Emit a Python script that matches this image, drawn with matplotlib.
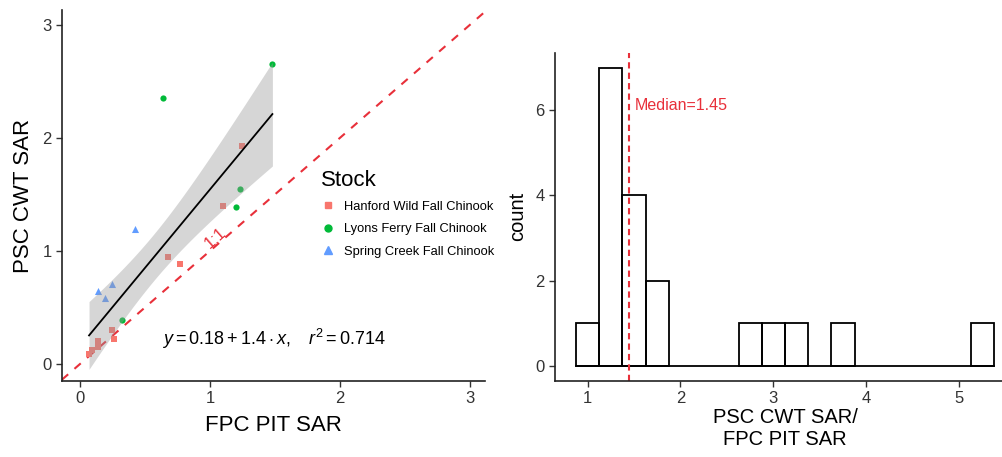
import numpy as np
import matplotlib
matplotlib.use("Agg")
import matplotlib.pyplot as plt
from matplotlib.lines import Line2D

plt.rcParams['font.family'] = ['Liberation Sans', 'DejaVu Sans']
plt.rcParams['mathtext.fontset'] = 'custom'
plt.rcParams['mathtext.rm'] = 'Liberation Sans'
plt.rcParams['mathtext.it'] = 'Liberation Sans:italic'

# scatter data: FPC PIT SAR (x) vs PSC CWT SAR (y)
hanford_x = [1.25, 1.10, 0.68, 0.77, 0.25, 0.26, 0.14, 0.14, 0.09, 0.07]
hanford_y = [1.93, 1.40, 0.95, 0.88, 0.30, 0.22, 0.20, 0.15, 0.12, 0.09]
lyons_x = [1.48, 0.64, 1.23, 1.20, 0.32]
lyons_y = [2.65, 2.35, 1.55, 1.39, 0.39]
spring_x = [0.42, 0.14, 0.25, 0.19]
spring_y = [1.19, 0.65, 0.71, 0.58]

# histogram of ratio PSC/FPC
bin_edges = np.arange(0.875, 5.376, 0.25)
bin_counts = [1, 7, 4, 2, 0, 0, 0, 1, 1, 1, 0, 1, 0, 0, 0, 0, 0, 1]
median_ratio = 1.45

RED = '#F8766D'
GREEN = '#00BA38'
BLUE = '#619CFF'
LINE_RED = '#E8303A'

fig = plt.figure(figsize=(10.03, 4.57), dpi=100)

# ---- left: scatter ----
ax = fig.add_axes([62 / 1003, 1 - 381 / 457, 423 / 1003, 371 / 457])
ax.scatter(hanford_x, hanford_y, marker='s', s=18, color=RED, zorder=2, linewidths=0)
ax.scatter(lyons_x, lyons_y, marker='o', s=20, color=GREEN, zorder=2, linewidths=0)
ax.scatter(spring_x, spring_y, marker='^', s=26, color=BLUE, zorder=2, linewidths=0)

xs = np.array(hanford_x + lyons_x + spring_x)
ys = np.array(hanford_y + lyons_y + spring_y)
slope, icpt = np.polyfit(xs, ys, 1)
n = len(xs)
resid = ys - (icpt + slope * xs)
s_err = np.sqrt(np.sum(resid ** 2) / (n - 2))
xg = np.linspace(xs.min(), xs.max(), 80)
yg = icpt + slope * xg
se = s_err * np.sqrt(1 / n + (xg - xs.mean()) ** 2 / np.sum((xs - xs.mean()) ** 2))
t = 2.11
ax.fill_between(xg, yg - t * se, yg + t * se, color='#999999', alpha=0.4, lw=0, zorder=3)
ax.plot(xg, yg, color='black', lw=1.3, zorder=4)

ax.plot([-1, 4], [-1, 4], color=LINE_RED, lw=1.5, ls=(0, (4, 4)), zorder=1)
ax.text(1.04, 1.11, '1:1', color=LINE_RED, fontsize=12, rotation=41,
        ha='center', va='center')
ax.text(0.63, 0.22, r'$y = 0.18 + 1.4 \cdot x,\ \ \ r^{2} = 0.714$',
        fontsize=13, ha='left', va='center')

ax.set_xlim(-0.138, 3.115)
ax.set_ylim(-0.15, 3.13)
ax.set_xticks([0, 1, 2, 3])
ax.set_yticks([0, 1, 2, 3])
ax.set_xlabel('FPC PIT SAR', fontsize=16, labelpad=6)
ax.set_ylabel('PSC CWT SAR', fontsize=16, labelpad=6)

handles = [
    Line2D([], [], marker='s', ls='', color=RED, markersize=5, label='Hanford Wild Fall Chinook'),
    Line2D([], [], marker='o', ls='', color=GREEN, markersize=5, label='Lyons Ferry Fall Chinook'),
    Line2D([], [], marker='^', ls='', color=BLUE, markersize=5.5, label='Spring Creek Fall Chinook'),
]
fig.legend(handles=handles, title='Stock', loc='upper left',
           bbox_to_anchor=(309 / 1003, 1 - 158 / 457), frameon=False,
           fontsize=9.3, title_fontsize=16, alignment='left',
           handlelength=1.2, handletextpad=0.6, labelspacing=0.8)

# ---- right: histogram ----
ax2 = fig.add_axes([555 / 1003, 1 - 380.7 / 457, 460 / 1003, 328 / 457])
for i, c in enumerate(bin_counts):
    if c > 0:
        ax2.bar(bin_edges[i], c, width=0.25, align='edge', fill=False,
                edgecolor='black', lw=1.3)
ax2.plot([bin_edges[0], bin_edges[-1]], [0, 0], color='black', lw=1.3)
ax2.axvline(median_ratio, color=LINE_RED, lw=1.5, ls=(0, (3, 2)))
ax2.text(median_ratio + 0.06, 6.1, 'Median=1.45', color=LINE_RED, fontsize=11.5,
         ha='left', va='center')
ax2.set_xlim(0.65, 5.6)
ax2.set_ylim(-0.35, 7.35)
ax2.set_xticks([1, 2, 3, 4, 5])
ax2.set_yticks([0, 2, 4, 6])
ax2.set_xlabel('PSC CWT SAR/\nFPC PIT SAR', fontsize=14.5, labelpad=1, linespacing=1.25)
ax2.set_ylabel('count', fontsize=14.5, labelpad=6)

for a in (ax, ax2):
    for side in ('top', 'right'):
        a.spines[side].set_visible(False)
    for side in ('left', 'bottom'):
        a.spines[side].set_linewidth(1.2)
        a.spines[side].set_color('#222222')
    a.tick_params(length=4, width=1.0, color='#333333', labelsize=12, labelcolor='#333333')

fig.savefig('out.png', dpi=100)
